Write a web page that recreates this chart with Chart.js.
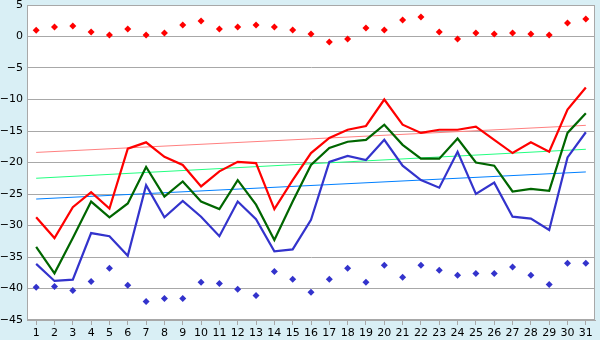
<!DOCTYPE html>
<html>
<head>
<meta charset="utf-8">
<script src="https://cdn.jsdelivr.net/npm/chart.js@4"></script>
<style>
html,body{margin:0;padding:0;background:#d9eff5;}
canvas{display:block;}
</style>
</head>
<body>
<canvas id="c" width="600" height="340"></canvas>
<script>
const categories = ['1','2','3','4','5','6','7','8','9','10','11','12','13','14','15','16','17','18','19','20','21','22','23','24','25','26','27','28','29','30','31'];
const yTicks = [5, 0, -5, -10, -15, -20, -25, -30, -35, -40, -45];

const redLine = [-28.7,-32.0,-27.1,-24.7,-27.3,-17.8,-16.8,-19.1,-20.4,-23.8,-21.4,-19.9,-20.1,-27.4,-22.8,-18.5,-16.1,-14.8,-14.2,-10.0,-14.0,-15.3,-14.8,-14.8,-14.3,-16.4,-18.5,-16.8,-18.3,-11.6,-8.1];
const greenLine = [-33.4,-37.6,-32.0,-26.2,-28.7,-26.5,-20.7,-25.4,-23.0,-26.2,-27.4,-22.8,-26.7,-32.3,-26.2,-20.4,-17.7,-16.7,-16.4,-14.0,-17.2,-19.4,-19.4,-16.2,-20.0,-20.5,-24.6,-24.2,-24.5,-15.3,-12.2];
const blueLine = [-36.1,-38.8,-38.6,-31.2,-31.7,-34.8,-23.6,-28.7,-26.1,-28.6,-31.7,-26.2,-29.0,-34.1,-33.8,-29.1,-19.9,-18.95,-19.6,-16.4,-20.5,-22.8,-24.0,-18.3,-25.0,-23.2,-28.6,-28.9,-30.7,-19.2,-15.2];
const redPoints = [1.0,1.5,1.67,0.7,0.24,1.19,0.24,0.56,1.83,2.46,1.19,1.5,1.83,1.5,1.03,0.4,-0.87,-0.4,1.35,1.03,2.62,3.1,0.7,-0.4,0.56,0.4,0.56,0.4,0.24,2.15,2.78];
const bluePoints = [-39.8,-39.7,-40.3,-38.9,-36.8,-39.5,-42.05,-41.6,-41.6,-39.0,-39.2,-40.1,-41.1,-37.3,-38.55,-40.6,-38.55,-36.8,-39.0,-36.3,-38.2,-36.3,-37.1,-37.9,-37.6,-37.6,-36.6,-37.9,-39.35,-36.0,-36.0];
const redTrendEnds = [-18.4, -14.1];
const greenTrendEnds = [-22.5, -17.9];
const blueTrendEnds = [-25.8, -21.5];

function trend(ends){
  return [{x: categories[0], y: ends[0]}, {x: categories[categories.length-1], y: ends[1]}];
}

const frame = {
  id: 'frame',
  beforeDraw(chart){
    const {ctx, chartArea:a} = chart;
    ctx.save();
    ctx.fillStyle = '#d9eff5';
    ctx.fillRect(0,0,chart.width,chart.height);
    ctx.fillStyle = '#ffffff';
    ctx.fillRect(a.left, a.top, a.right-a.left, a.bottom-a.top);
    ctx.restore();
  },
  afterDraw(chart){
    const {ctx, chartArea:a} = chart;
    ctx.save();
    ctx.strokeStyle = '#a8a8a8';
    ctx.lineWidth = 1;
    ctx.strokeRect(Math.round(a.left)+0.5, Math.round(a.top)+0.5, Math.round(a.right-a.left)-1, Math.round(a.bottom-a.top)-1);
    ctx.restore();
  }
};

const lineDs = (data, color, order) => ({data, borderColor: color, backgroundColor: color, borderWidth: 2.2, pointRadius: 0, tension: 0, fill: false, order});
const trendDs = (ends, color) => ({data: trend(ends), borderColor: color, borderWidth: 1, pointRadius: 0, fill: false, order: 10});
const ptsDs = (data, color) => ({data, showLine: false, pointStyle: 'rectRot', pointRadius: 3.5, pointBorderWidth: 0, borderColor: color, backgroundColor: color, pointBackgroundColor: color, order: 1});

new Chart(document.getElementById('c'), {
  type: 'line',
  data: {
    labels: categories,
    datasets: [
      trendDs(redTrendEnds, '#ff8080'),
      trendDs(greenTrendEnds, '#22ff80'),
      trendDs(blueTrendEnds, '#0080ff'),
      lineDs(redLine, '#ff0000', 5),
      lineDs(greenLine, '#006600', 5),
      lineDs(blueLine, '#3333cc', 5),
      ptsDs(redPoints, '#ff0000'),
      ptsDs(bluePoints, '#3333cc')
    ]
  },
  options: {
    responsive: false,
    animation: false,
    events: [],
    layout: {padding: {top: 5, right: 5, left: 0, bottom: 0}},
    plugins: {legend: {display: false}, tooltip: {enabled: false}},
    scales: {
      x: {
        type: 'category',
        offset: true,
        grid: {display: true, drawOnChartArea: false, drawTicks: true, tickLength: 5, color: '#a8a8a8', offset: false},
        border: {color: '#a8a8a8'},
        ticks: {color: '#000', font: {family: 'DejaVu Sans', size: 11}, padding: 2, maxRotation: 0, autoSkip: false},
        afterFit(s){ s.height = 20; s.paddingLeft = 0; s.paddingRight = 0; }
      },
      y: {
        min: -45, max: 5,
        afterBuildTicks(s){ s.ticks = yTicks.map(v => ({value: v})); },
        grid: {color: '#a8a8a8', drawTicks: false},
        border: {color: '#a8a8a8'},
        ticks: {color: '#000', font: {family: 'DejaVu Sans', size: 11}, padding: 4,
          callback: v => String(v).replace('-', '\u2212')},
        afterFit(s){ s.width = 27; s.paddingTop = 0; s.paddingBottom = 0; }
      }
    }
  },
  plugins: [frame]
});
</script>
</body>
</html>
